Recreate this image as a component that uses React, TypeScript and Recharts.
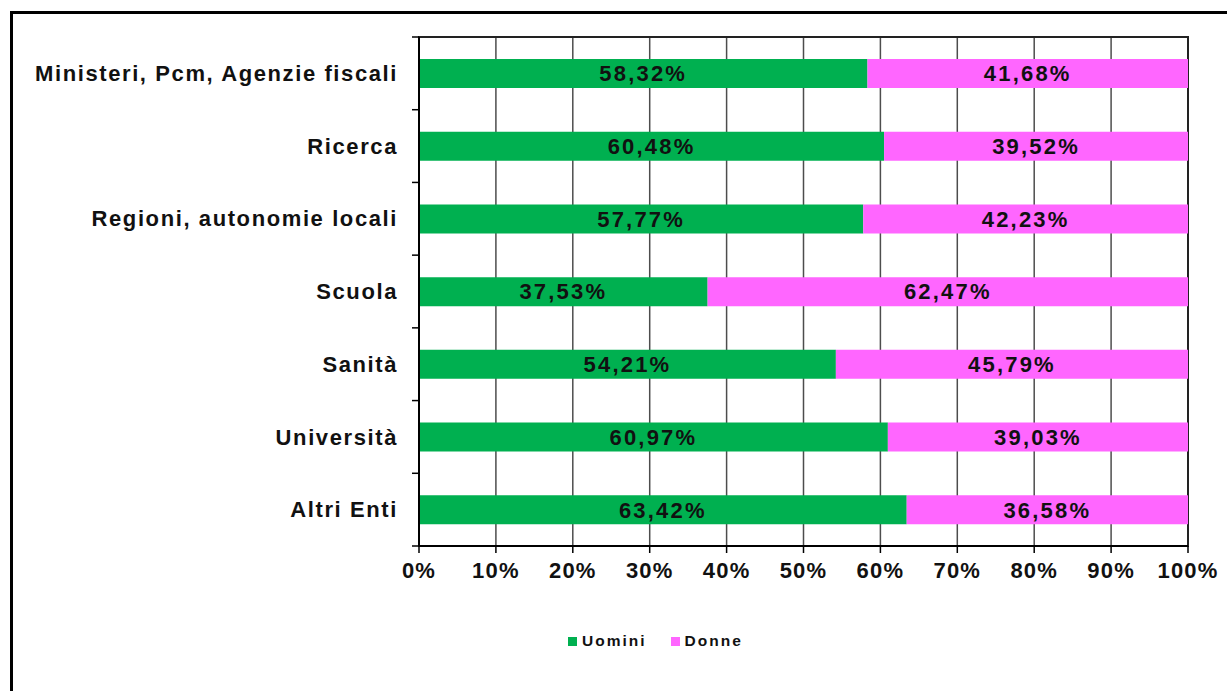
import { BarChart, Bar, XAxis, YAxis, CartesianGrid, LabelList, ReferenceArea } from "recharts"

const categories = [
  "Ministeri, Pcm, Agenzie fiscali",
  "Ricerca",
  "Regioni, autonomie locali",
  "Scuola",
  "Sanità",
  "Università",
  "Altri Enti",
]
const uomini = [58.32, 60.48, 57.77, 37.53, 54.21, 60.97, 63.42]
const donne = [41.68, 39.52, 42.23, 62.47, 45.79, 39.03, 36.58]
const xTicks = [0, 10, 20, 30, 40, 50, 60, 70, 80, 90, 100]

const data = categories.map((name, i) => ({ name, uomini: uomini[i], donne: donne[i] }))

const FONT = '"Liberation Sans", Arial, sans-serif'
const GREEN = "#00B050"
const PINK = "#FF66FF"

const pct = (v: any) => `${Number(v).toFixed(2).replace(".", ",")}%`

function CategoryTick(props: any) {
  const { x, y, payload, index } = props
  const half = payload?.offset ?? 0
  const last = index === categories.length - 1
  return (
    <g>
      <text
        x={x - 21}
        y={y}
        dy="0.35em"
        textAnchor="end"
        fontFamily={FONT}
        fontSize={22}
        fontWeight="bold"
        letterSpacing={1.6}
        fill="#111"
      >
        {payload.value}
      </text>
      <line x1={x - 7} x2={x} y1={y - half} y2={y - half} stroke="#000" strokeWidth={1.5} />
      {last && <line x1={x - 7} x2={x} y1={y + half} y2={y + half} stroke="#000" strokeWidth={1.5} />}
    </g>
  )
}

export default function App() {
  return (
    <div style={{ position: "absolute", left: 0, top: 0, width: 1227, height: 691, overflow: "hidden", background: "#fff" }}>
      <div
        style={{
          position: "absolute",
          left: 10,
          top: 11,
          width: 1240,
          height: 700,
          border: "3px solid #000",
          boxSizing: "border-box",
        }}
      />
      <div style={{ position: "absolute", left: 0, top: 0 }}>
        <BarChart
          width={1227}
          height={691}
          data={data}
          layout="vertical"
          margin={{ top: 37, right: 39, bottom: 105, left: 0 }}
        >
          <CartesianGrid horizontal={false} stroke="#4d4d4d" strokeWidth={1.5} />
          <XAxis
            type="number"
            domain={[0, 100]}
            ticks={xTicks}
            tickFormatter={(v) => `${v}%`}
            height={40}
            tickSize={7}
            tickMargin={9}
            axisLine={{ stroke: "#000", strokeWidth: 2 }}
            tickLine={{ stroke: "#000", strokeWidth: 1.5 }}
            tick={{ fill: "#111", fontSize: 22, fontWeight: "bold", fontFamily: FONT, letterSpacing: 1.2 }}
            interval={0}
          />
          <YAxis
            type="category"
            dataKey="name"
            width={419}
            tickSize={0}
            tickMargin={0}
            tickLine={false}
            axisLine={{ stroke: "#000", strokeWidth: 2 }}
            tick={<CategoryTick />}
            interval={0}
          />
          <ReferenceArea x1={0} x2={100} fill="none" stroke="#222" strokeWidth={2} ifOverflow="visible" />
          <Bar dataKey="uomini" stackId="a" fill={GREEN} barSize={29} isAnimationActive={false}>
            <LabelList
              dataKey="uomini"
              position="center"
              formatter={pct}
              fill="#111"
              fontSize={22}
              fontWeight="bold"
              fontFamily={FONT}
              letterSpacing={2.2}
            />
          </Bar>
          <Bar dataKey="donne" stackId="a" fill={PINK} barSize={29} isAnimationActive={false}>
            <LabelList
              dataKey="donne"
              position="center"
              formatter={pct}
              fill="#111"
              fontSize={22}
              fontWeight="bold"
              fontFamily={FONT}
              letterSpacing={2.2}
            />
          </Bar>
        </BarChart>
      </div>
      <div
        style={{
          position: "absolute",
          top: 631,
          left: 568,
          display: "flex",
          alignItems: "center",
          fontFamily: FONT,
          fontSize: 15.5,
          fontWeight: "bold",
          letterSpacing: 2,
          color: "#111",
          lineHeight: "20px",
        }}
      >
        <span style={{ display: "inline-block", width: 9, height: 9, background: GREEN, marginRight: 5 }} />
        <span style={{ marginRight: 24 }}>Uomini</span>
        <span style={{ display: "inline-block", width: 9, height: 9, background: PINK, marginRight: 5 }} />
        <span>Donne</span>
      </div>
    </div>
  )
}
